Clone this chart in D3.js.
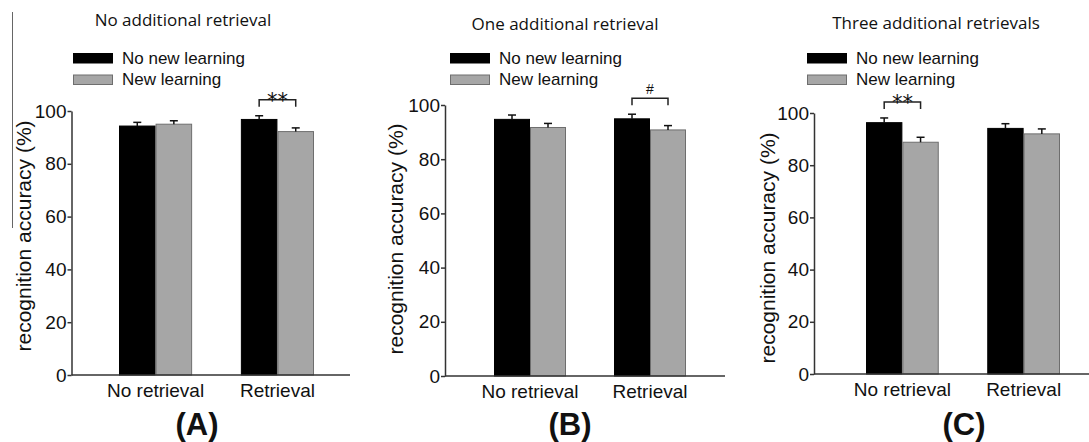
<!DOCTYPE html>
<html lang="en">
  <head>
    <meta charset="utf-8">
    <title>Recognition accuracy</title>
    <script src="https://d3js.org/d3.v7.min.js"></script>
    <style>
      body { margin: 0; background: #fff; }
      text { font-family: "Liberation Sans", Arial, sans-serif; fill: #111; }
    </style>
  </head>
  <body>
    <script type="text/javascript">

      var w = 1089;
      var h = 442;

      // data
      var panelTitles = ["No additional retrieval", "One additional retrieval", "Three additional retrievals"];
      var panelLetters = ["(A)", "(B)", "(C)"];
      var categories = ["No retrieval", "Retrieval"];
      var seriesNames = ["No new learning", "New learning"];
      // values per panel, per category
      var noNewLearning = [[94.3, 96.8], [94.7, 94.9], [96.3, 94.1]];
      var newLearning = [[95.0, 92.2], [91.7, 90.8], [88.8, 92.0]];
      var errNoNew = [[1.4, 1.4], [1.6, 1.7], [1.8, 1.8]];
      var errNew = [[1.3, 1.4], [1.5, 1.6], [1.9, 1.9]];
      var sigCategory = ["Retrieval", "Retrieval", "No retrieval"];
      var sigText = ["**", "#", "**"];
      var yTicks = [0, 20, 40, 60, 80, 100];
      var yLabel = "recognition accuracy (%)";

      // layout of each panel in page pixels
      var layout = [
        {axisX: 71.5, y0: 375, y100: 111, xEnd: 350, b0: 119, b1: 314, titleX: 183, titleY: 26, legX: 73, ylabX: 23, ylabY: 236, letterX: 197},
        {axisX: 445, y0: 376, y100: 105, xEnd: 725, b0: 494, b1: 686, titleX: 565, titleY: 30, legX: 450, ylabX: 395, ylabY: 239, letterX: 570},
        {axisX: 814, y0: 374, y100: 113, xEnd: 1089, b0: 866, b1: 1060, titleX: 936, titleY: 29, legX: 807, ylabX: 767, ylabY: 248, letterX: 964}
      ];

      var colors = ["#000000", "#a6a6a6"];
      var strokes = ["#000000", "#6e6e6e"];

      var svg = d3.select("body")
                  .append("svg")
                  .attr("width", w)
                  .attr("height", h);

      // stray scan line on the left edge
      svg.append("line")
         .attr("x1", 12.5).attr("x2", 12.5)
         .attr("y1", 12).attr("y2", 228)
         .attr("stroke", "#666").attr("stroke-width", 1);

      layout.forEach(function(L, p) {
        var g = svg.append("g");

        var y = d3.scaleLinear().domain([0, 100]).range([L.y0, L.y100]);
        var x = d3.scaleBand().domain(categories).range([L.b0, L.b1])
                  .paddingInner(0.4).paddingOuter(0);
        var xs = d3.scaleBand().domain(seriesNames).range([0, x.bandwidth()]);

        var rows = categories.map(function(c, i) {
          return [
            {cat: c, s: seriesNames[0], v: noNewLearning[p][i], e: errNoNew[p][i], k: 0},
            {cat: c, s: seriesNames[1], v: newLearning[p][i], e: errNew[p][i], k: 1}
          ];
        }).flat();

        // title
        g.append("text")
         .attr("x", L.titleX).attr("y", L.titleY)
         .attr("text-anchor", "middle")
         .style("font-family", "'Open Sans', sans-serif")
         .style("font-size", "17px")
         .text(panelTitles[p]);

        // legend
        seriesNames.forEach(function(s, k) {
          var ly = 53 + k * 21.5;
          g.append("rect")
           .attr("x", L.legX + 0.5).attr("y", ly + 0.5)
           .attr("width", 39).attr("height", 9.5)
           .attr("fill", colors[k]).attr("stroke", strokes[k]);
          g.append("text")
           .attr("x", L.legX + 49).attr("y", ly + 5)
           .attr("dominant-baseline", "central")
           .style("font-size", "17px")
           .text(s);
        });

        // bars
        g.selectAll("rect.bar")
         .data(rows)
         .enter()
         .append("rect")
         .attr("class", "bar")
         .attr("x", d => x(d.cat) + xs(d.s) + 0.5)
         .attr("y", d => y(d.v))
         .attr("width", xs.bandwidth() - 1)
         .attr("height", d => y(0) - y(d.v))
         .attr("fill", d => colors[d.k])
         .attr("stroke", d => strokes[d.k]);

        // error bars (upper only)
        var eb = g.selectAll("g.err")
                  .data(rows)
                  .enter()
                  .append("g")
                  .attr("class", "err")
                  .attr("stroke", "#111")
                  .attr("stroke-width", 1.5);
        eb.append("line")
          .attr("x1", d => x(d.cat) + xs(d.s) + xs.bandwidth() / 2)
          .attr("x2", d => x(d.cat) + xs(d.s) + xs.bandwidth() / 2)
          .attr("y1", d => y(d.v))
          .attr("y2", d => y(d.v + d.e));
        eb.append("line")
          .attr("x1", d => x(d.cat) + xs(d.s) + xs.bandwidth() / 2 - 4)
          .attr("x2", d => x(d.cat) + xs(d.s) + xs.bandwidth() / 2 + 4)
          .attr("y1", d => y(d.v + d.e))
          .attr("y2", d => y(d.v + d.e));

        // y axis
        var yAxis = d3.axisLeft(y).tickValues(yTicks).tickSize(4).tickSizeOuter(0).tickPadding(1);
        var ya = g.append("g")
                  .attr("transform", "translate(" + L.axisX + ",0)")
                  .call(yAxis);
        ya.selectAll("path, line").attr("stroke", "#333").attr("stroke-width", 1.5);
        ya.selectAll("text").style("font-size", "19px").attr("fill", "#111")
          .style("font-family", "'Liberation Sans', Arial, sans-serif");

        // x axis line
        g.append("line")
         .attr("x1", L.axisX).attr("x2", L.xEnd)
         .attr("y1", y(0)).attr("y2", y(0))
         .attr("stroke", "#333").attr("stroke-width", 1.5);

        // category labels
        var xAxis = d3.axisBottom(x).tickSize(0).tickPadding(9);
        var xa = g.append("g")
                  .attr("transform", "translate(0," + y(0) + ")")
                  .call(xAxis);
        xa.select(".domain").remove();
        xa.selectAll("text").style("font-size", "19px").attr("fill", "#111")
          .style("font-family", "'Liberation Sans', Arial, sans-serif");

        // y label
        g.append("text")
         .attr("transform", "translate(" + L.ylabX + "," + L.ylabY + ") rotate(-90)")
         .attr("text-anchor", "middle")
         .attr("dominant-baseline", "central")
         .style("font-size", "21px")
         .text(yLabel);

        // significance bracket
        var sc = sigCategory[p];
        var pair = rows.filter(d => d.cat === sc);
        var xa0 = x(sc) + xs(seriesNames[0]) + xs.bandwidth() / 2;
        var xa1 = x(sc) + xs(seriesNames[1]) + xs.bandwidth() / 2;
        var topY = y(d3.max(pair, d => d.v + d.e));
        var legBottom = topY - 9;
        var barTop = legBottom - 7;
        g.append("path")
         .attr("d", "M" + xa0 + "," + legBottom + "V" + barTop + "H" + xa1 + "V" + legBottom)
         .attr("fill", "none").attr("stroke", "#222").attr("stroke-width", 1.5);
        var star = sigText[p] === "**";
        g.append("text")
         .attr("x", (xa0 + xa1) / 2)
         .attr("y", star ? barTop + 8 : barTop - 4)
         .attr("text-anchor", "middle")
         .style("font-family", star ? "'DejaVu Sans', sans-serif" : null)
         .style("font-size", star ? "21px" : "14px")
         .text(sigText[p]);

        // panel letter
        g.append("text")
         .attr("x", L.letterX).attr("y", 435)
         .attr("text-anchor", "middle")
         .style("font-size", "31px")
         .style("font-weight", "bold")
         .text(panelLetters[p]);
      });

    </script>
  </body>
</html>
